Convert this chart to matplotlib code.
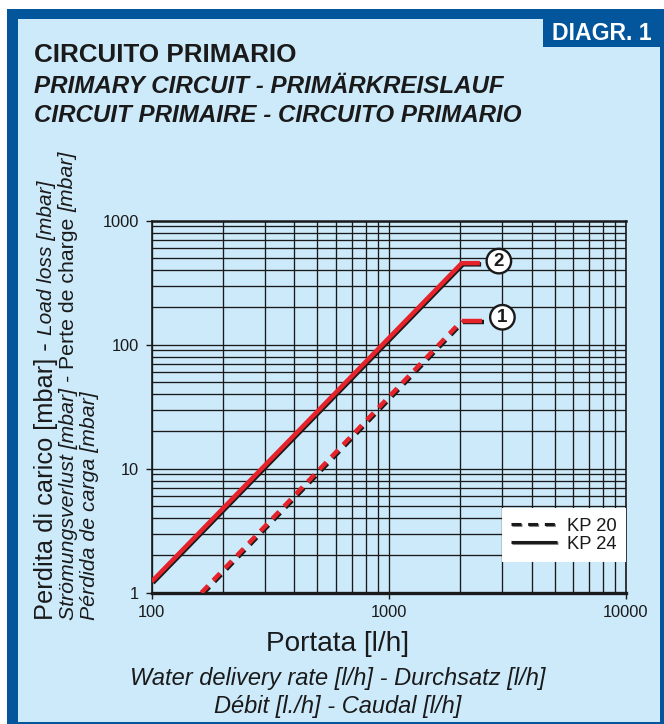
import matplotlib
matplotlib.use("Agg")
import matplotlib.pyplot as plt
from matplotlib.patches import Rectangle
from matplotlib.lines import Line2D
import matplotlib.patheffects as pe
from matplotlib.ticker import FixedLocator, FixedFormatter, LogLocator, NullFormatter

plt.rcParams['font.family'] = ['Liberation Sans', 'DejaVu Sans']
plt.rcParams['lines.scale_dashes'] = False

# ---------------- data ----------------
kp24_flow = [100, 2030, 2420]      # l/h
kp24_loss = [1.23, 455, 455]       # mbar
kp20_flow = [162, 2030, 2480]
kp20_loss = [1.0, 156, 156]

x_ticks = [100, 1000, 10000]
x_labels = ['100', '1000', '10000']
y_ticks = [1, 10, 100, 1000]
y_labels = ['1', '10', '100', '1000']
legend_labels = ['KP 20', 'KP 24']
curve_ids = ['1', '2']

# ---------------- figure ----------------
W, H = 664, 724
fig = plt.figure(figsize=(W / 100, H / 100), dpi=100, facecolor='white')

def P(x, y):
    return (x / W, 1 - y / H)

DARK = '#03569b'
LIGHT = '#cdeafb'
RED = '#e6222a'
INK = '#1a1a1a'

def rect(x0, y0, x1, y1, color):
    fig.add_artist(Rectangle(P(x0, y1), (x1 - x0) / W, (y1 - y0) / H,
                             transform=fig.transFigure, facecolor=color,
                             edgecolor='none', zorder=0))

rect(7.3, 9.3, 664, 724, DARK)
rect(18.3, 19.3, 660, 722, LIGHT)
rect(542.7, 19.3, 660, 46.7, DARK)

fig.text(*P(551.5, 39.5), 'DIAGR. 1', color='white', fontsize=16.6,
         fontweight='bold', ha='left', va='baseline')

fig.text(*P(33.5, 62.5), 'CIRCUITO PRIMARIO', fontsize=18.7, fontweight='bold',
         color=INK, ha='left', va='baseline')
fig.text(*P(33.5, 93), 'PRIMARY CIRCUIT - PRIMÄRKREISLAUF', fontsize=17.4,
         fontweight='bold', style='italic', color=INK, ha='left', va='baseline')
fig.text(*P(33.5, 122), 'CIRCUIT PRIMAIRE - CIRCUITO PRIMARIO', fontsize=17.4,
         fontweight='bold', style='italic', color=INK, ha='left', va='baseline')

# ---------------- axes ----------------
x0, x1 = 151.7, 626.0
y0, y1 = 592.7, 220.7
ax = fig.add_axes([x0 / W, 1 - y0 / H, (x1 - x0) / W, (y0 - y1) / H])
ax.set_facecolor('none')
ax.set_xscale('log')
ax.set_yscale('log')
ax.set_xlim(100, 10000)
ax.set_ylim(1, 1000)

ax.xaxis.set_major_locator(FixedLocator(x_ticks))
ax.xaxis.set_major_formatter(FixedFormatter(x_labels))
ax.yaxis.set_major_locator(FixedLocator(y_ticks))
ax.yaxis.set_major_formatter(FixedFormatter(y_labels))
ax.xaxis.set_minor_locator(LogLocator(base=10, subs=range(2, 10), numticks=20))
ax.yaxis.set_minor_locator(LogLocator(base=10, subs=range(2, 10), numticks=20))
ax.xaxis.set_minor_formatter(NullFormatter())
ax.yaxis.set_minor_formatter(NullFormatter())
ax.tick_params(which='major', length=4, width=1, direction='out',
               labelsize=11.8, colors=INK, pad=5)
ax.tick_params(which='minor', length=0)
ax.grid(which='both', color=INK, lw=0.95)
ax.set_axisbelow(True)
for side, lw in (('top', 1.8), ('bottom', 2.4), ('left', 1.2), ('right', 1.2)):
    ax.spines[side].set_linewidth(lw)
    ax.spines[side].set_color(INK)

shadow = [pe.SimpleLineShadow(offset=(0.9, -0.9), shadow_color=INK, alpha=1.0),
          pe.Normal()]
ax.plot(kp24_flow, kp24_loss, color=RED, lw=3.2, solid_capstyle='butt',
        solid_joinstyle='miter', path_effects=shadow, zorder=5)
# KP 20: dashed rising part, solid short tail at the end
ax.plot(kp20_flow[:2], kp20_loss[:2], color=RED, lw=3.2, dashes=(7.0, 5.3),
        dash_capstyle='butt', path_effects=shadow, zorder=5)
ax.plot(kp20_flow[1:], kp20_loss[1:], color=RED, lw=3.2, solid_capstyle='butt',
        path_effects=shadow, zorder=5)

for flows, losses, cid, dx, dy in ((kp24_flow, kp24_loss, curve_ids[1], 19, 2),
                                   (kp20_flow, kp20_loss, curve_ids[0], 20, 3.5)):
    ax.annotate(cid, (flows[-1], losses[-1]), xytext=(dx, dy),
                textcoords='offset pixels', ha='center', va='center',
                fontsize=13.5, fontweight='bold', color=INK, zorder=6,
                bbox=dict(boxstyle='circle,pad=0.2', fc='white', ec=INK, lw=1.7))

lshadow = [pe.SimpleLineShadow(offset=(0.6, -0.6), shadow_color='#888888', alpha=1.0),
           pe.Normal()]
handles = [Line2D([], [], color=INK, lw=2.2, dashes=(7.2, 4.8),
                  dash_capstyle='butt', path_effects=lshadow),
           Line2D([], [], color=INK, lw=2.2, solid_capstyle='butt',
                  path_effects=lshadow)]
leg = ax.legend(handles, legend_labels, loc='lower right',
                bbox_to_anchor=(1.0, 31 / 372), borderaxespad=0, frameon=True,
                fancybox=False, framealpha=1, facecolor='white', edgecolor='none',
                fontsize=13.2, handlelength=2.5, handletextpad=0.55,
                labelspacing=0.05, borderpad=0.5)
for t in leg.get_texts():
    t.set_color(INK)

# ---------------- axis labels ----------------
fig.canvas.draw()
renderer = fig.canvas.get_renderer()

def vline(xb, ystart, pieces):
    y = ystart
    for txt, size, style, gap in pieces:
        t = fig.text(*P(xb, y), txt, fontsize=size, style=style, rotation=90,
                     rotation_mode='anchor', ha='left', va='baseline', color=INK)
        bb = t.get_window_extent(renderer)
        y -= bb.height + gap * size * 100 / 72

vline(52.5, 620, [('Perdita di carico [mbar] -', 18.3, 'normal', 0.278),
                  ('Load loss [mbar]', 15.0, 'italic', 0)])
vline(73.5, 620, [('Strömungsverlust [mbar] -', 15.3, 'italic', 0.278),
                  ('Perte de charge', 15.3, 'normal', 0.278),
                  ('[mbar]', 15.3, 'italic', 0)])
vline(95, 620, [('Pérdida de carga [mbar]', 15.3, 'italic', 0)])

fig.text(*P(338, 651), 'Portata [l/h]', fontsize=20.2, ha='center', va='baseline',
         color=INK)
fig.text(*P(338, 685), 'Water delivery rate [l/h] - Durchsatz [l/h]', fontsize=17,
         style='italic', ha='center', va='baseline', color=INK)
fig.text(*P(338, 713), 'Débit [l./h] - Caudal [l/h]', fontsize=17,
         style='italic', ha='center', va='baseline', color=INK)

fig.savefig('out.png', dpi=100, facecolor='white')
